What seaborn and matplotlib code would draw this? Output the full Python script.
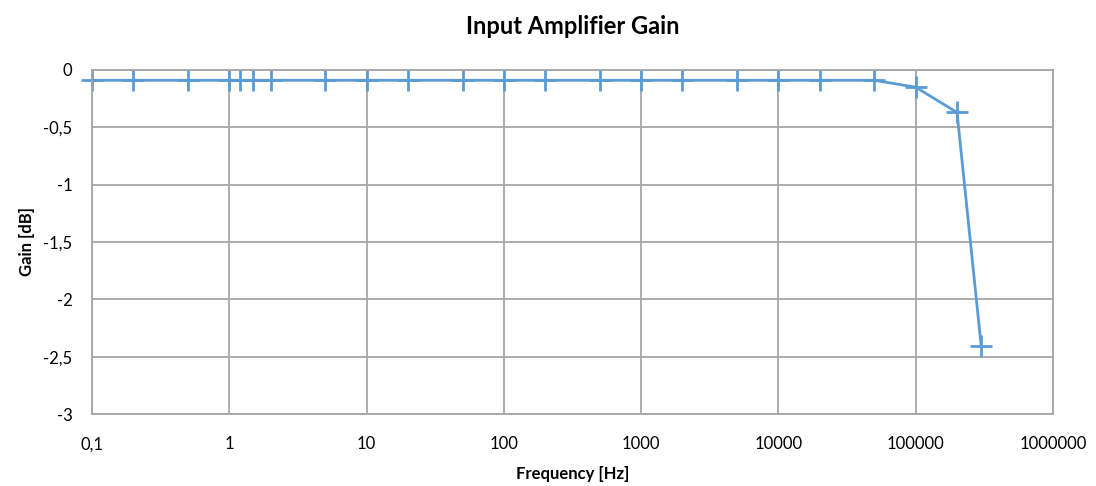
import numpy as np
import pandas as pd
import matplotlib
matplotlib.use("Agg")
import matplotlib.pyplot as plt
import seaborn as sns
from matplotlib.ticker import FixedLocator, FuncFormatter, NullLocator

# --- Data ---
frequency_hz = [0.1, 0.2, 0.5, 1, 1.2, 1.5, 2, 5, 10, 20, 50, 100, 200, 500,
                1000, 2000, 5000, 10000, 20000, 50000, 100000, 200000, 300000]
gain_db = [-0.09, -0.09, -0.09, -0.09, -0.09, -0.09, -0.09, -0.09, -0.09, -0.09,
           -0.09, -0.09, -0.09, -0.09, -0.09, -0.09, -0.09, -0.09, -0.09, -0.09,
           -0.15, -0.37, -2.41]
x_ticks = [0.1, 1, 10, 100, 1000, 10000, 100000, 1000000]
y_ticks = [0, -0.5, -1, -1.5, -2, -2.5, -3]

LINE_COLOR = "#5b9bd5"
GRID_COLOR = "#a6a6a6"

sns.set_style("white")
plt.rcParams['font.family'] = ['Lato', 'DejaVu Sans']
plt.rcParams['text.color'] = "black"
plt.rcParams['axes.labelcolor'] = "black"

df = pd.DataFrame({"Frequency": frequency_hz, "Gain": gain_db})

fig = plt.figure(figsize=(10.96, 4.86), dpi=100)
ax = fig.add_axes([92 / 1096, 1 - 414 / 486, (1053 - 92) / 1096, (414 - 70) / 486])

sns.lineplot(data=df, x="Frequency", y="Gain", ax=ax, color=LINE_COLOR,
             linewidth=2.0, marker="+", markersize=16, markeredgewidth=2.0,
             markeredgecolor=LINE_COLOR, clip_on=False)

ax.set_xscale("log")
ax.set_xlim(0.1, 1000000)
ax.set_ylim(-3, 0)
ax.xaxis.set_major_locator(FixedLocator(x_ticks))
ax.xaxis.set_minor_locator(NullLocator())
ax.yaxis.set_major_locator(FixedLocator(y_ticks))


def comma_fmt(v, pos):
    if v == int(v):
        return f"{int(v)}"
    return f"{v:g}".replace(".", ",")


ax.xaxis.set_major_formatter(FuncFormatter(comma_fmt))
ax.yaxis.set_major_formatter(FuncFormatter(comma_fmt))

ax.grid(True, color=GRID_COLOR, linewidth=1.3)
ax.set_axisbelow(True)
for s in ax.spines.values():
    s.set_color(GRID_COLOR)
    s.set_linewidth(1.3)

ax.tick_params(axis="both", length=0, labelsize=12, colors="#000000")
ax.tick_params(axis="x", pad=16)
ax.tick_params(axis="y", pad=14)

ax.set_xlabel("Frequency [Hz]", fontsize=12, fontweight="bold", labelpad=10)
ax.set_ylabel("Gain [dB]", fontsize=12, fontweight="bold", labelpad=6)
fig.text((92 + 1053) / 2 / 1096, 1 - 27 / 486, "Input Amplifier Gain",
         ha="center", va="center", fontsize=17, fontweight="bold")

fig.savefig("out.png", dpi=100)
